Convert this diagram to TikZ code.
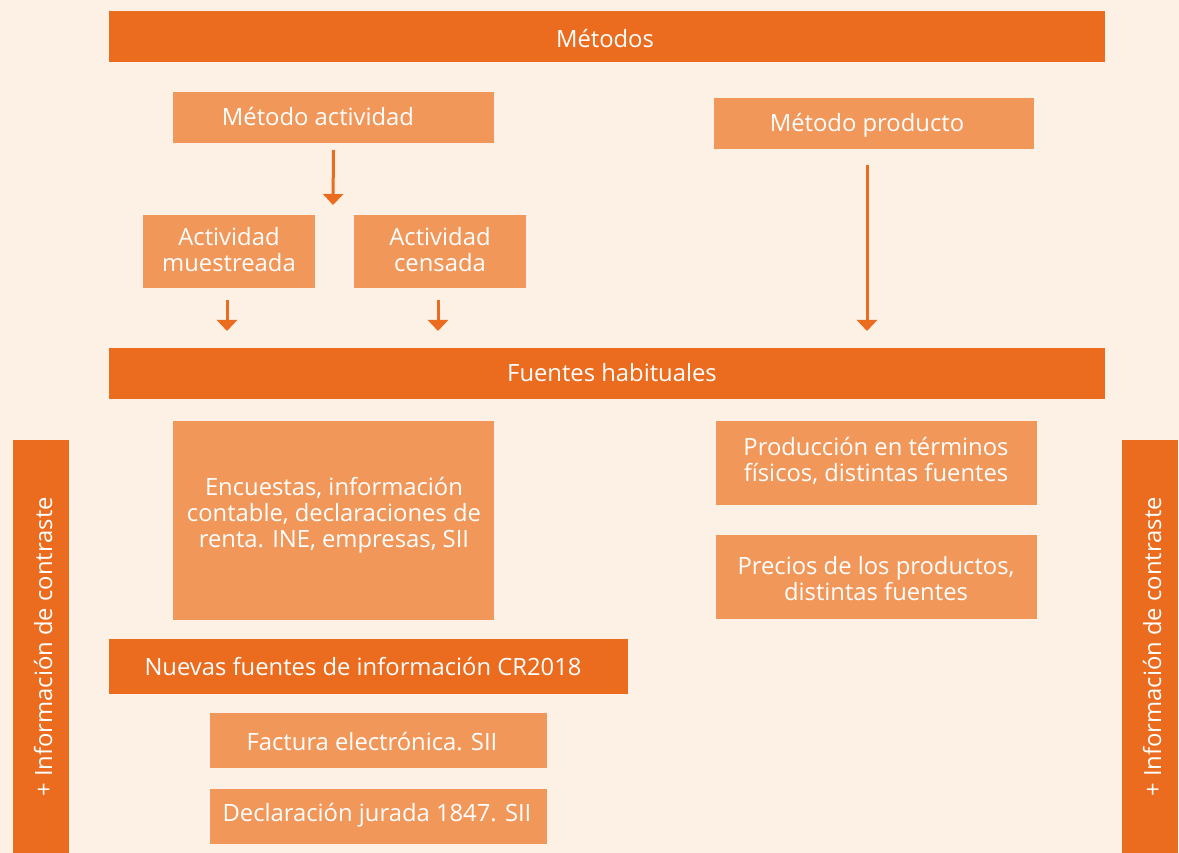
\documentclass[tikz,border=0pt]{standalone}
\usepackage{fontspec}
\setmainfont{Open Sans}
\usetikzlibrary{arrows.meta}
\definecolor{bgc}{HTML}{FDF0E4}
\definecolor{dark}{HTML}{EB6C1F}
\definecolor{light}{HTML}{F2975A}
\tikzset{
  box/.style={rectangle, inner sep=0pt, outer sep=0pt, anchor=north west},
  dbox/.style={box, fill=dark},
  lbox/.style={box, fill=light},
  txt/.style={text=white, font=\fontsize{23.8}{26}\selectfont, align=center, inner sep=0pt},
  arr/.style={draw=dark, line width=3pt, -{Triangle[width=20pt,length=11pt]}},
}
\begin{document}
\begin{tikzpicture}[x=1pt,y=-1pt]
\fill[bgc] (0,0) rectangle (1179,853);
\useasboundingbox (0,0) rectangle (1179,853);
% boxes
\node[dbox, minimum width=996pt, minimum height=51pt] (met) at (109,11) {};
\node[txt] (tmet) at (605,39) {Métodos};
\node[lbox, minimum width=321pt, minimum height=51pt] (ma) at (173,92) {};
\node[txt] (tma) at (318,117) {Método actividad};
\node[lbox, minimum width=320pt, minimum height=51pt] (mp) at (714,98) {};
\node[txt] (tmp) at (867,125) {Método producto};
\node[lbox, minimum width=172pt, minimum height=73pt] (am) at (143,215) {};
\node[txt] (tam) at (229,250) {Actividad\\muestreada};
\node[lbox, minimum width=172pt, minimum height=73pt] (ac) at (354,215) {};
\node[txt] (tac) at (440,250) {Actividad\\censada};
\node[dbox, minimum width=996pt, minimum height=51pt] (fh) at (109,348) {};
\node[txt] (tfh) at (612,373) {Fuentes habituales};
\node[lbox, minimum width=321pt, minimum height=199pt] (enc) at (173,421) {};
\node[txt] (tenc) at (334,515) {Encuestas, información\\contable, declaraciones de\\renta. INE, empresas, SII};
\node[lbox, minimum width=321pt, minimum height=84pt] (prod) at (716,421) {};
\node[txt] (tprod) at (876,461) {Producción en términos\\físicos, distintas fuentes};
\node[lbox, minimum width=321pt, minimum height=84pt] (prec) at (716,535) {};
\node[txt] (tprec) at (876,579) {Precios de los productos,\\distintas fuentes};
\node[dbox, minimum width=519pt, minimum height=55pt] (nf) at (109,639) {};
\node[txt] (tnf) at (363,666) {Nuevas fuentes de información CR2018};
\node[lbox, minimum width=337pt, minimum height=55pt] (fe) at (210,713) {};
\node[txt] (tfe) at (372,742) {Factura electrónica. SII};
\node[lbox, minimum width=337pt, minimum height=55pt] (dj) at (210,789) {};
\node[txt] (tdj) at (377,815) {Declaración jurada 1847. SII};
\node[dbox, minimum width=56pt, minimum height=413pt] (sl) at (13,440) {};
\node[txt, rotate=90] (tsl) at (43,647) {+ Información de contraste};
\node[dbox, minimum width=56pt, minimum height=413pt] (sr) at (1122,440) {};
\node[txt, rotate=90] (tsr) at (1152,647) {+ Información de contraste};
% arrows
\coordinate (e1) at (333,205);
\draw[arr] ([yshift=-7pt]ma.south) -- (e1);
\coordinate (s2) at (227,300);
\coordinate (s3) at (438,300);
\coordinate (s4) at (867,165);
\draw[arr] (s2) -- ([yshift=17pt]s2 |- fh.north);
\draw[arr] (s3) -- ([yshift=17pt]s3 |- fh.north);
\draw[arr] (s4) -- ([yshift=17pt]s4 |- fh.north);
\end{tikzpicture}
\end{document}
